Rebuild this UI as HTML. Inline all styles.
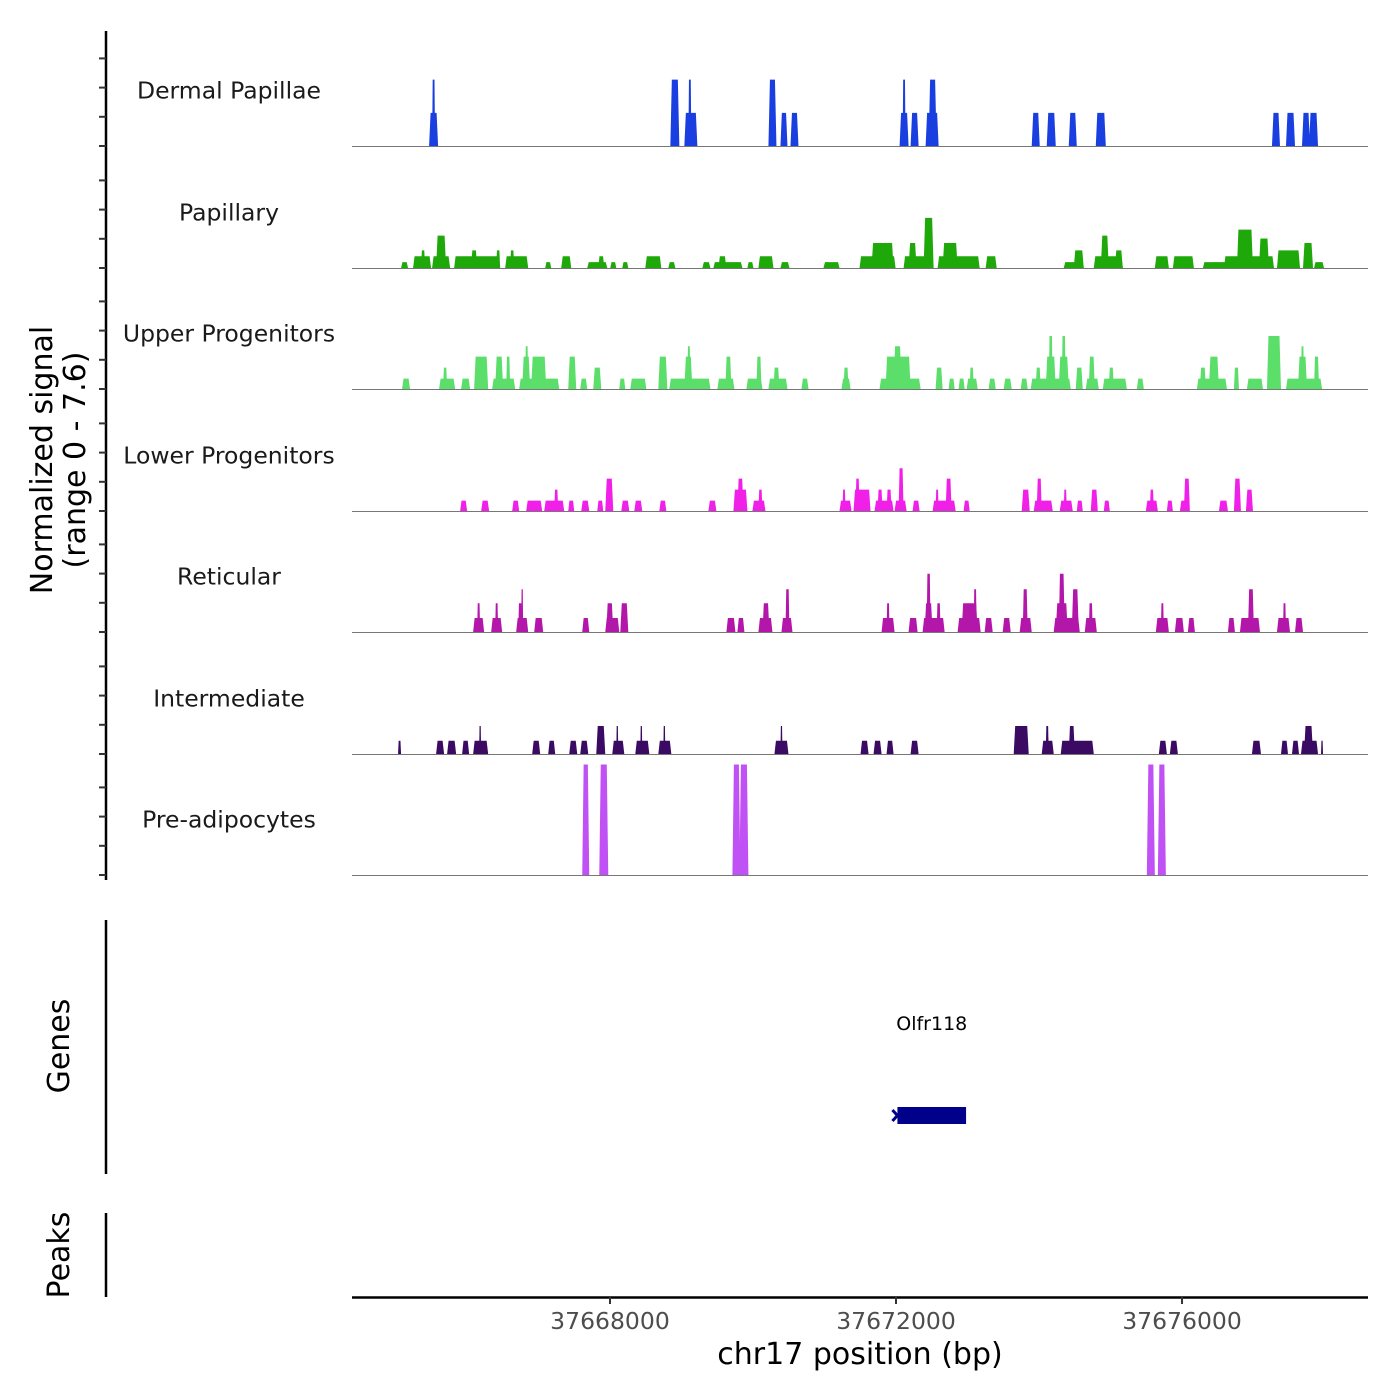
<!DOCTYPE html>
<html><head><meta charset="utf-8">
<style>
html,body{margin:0;padding:0;background:#fff;}
svg{display:block;font-family:"DejaVu Sans","Liberation Sans",sans-serif;}
</style></head>
<body>
<svg id="chart" width="1400" height="1400" viewBox="0 0 1400 1400" xmlns="http://www.w3.org/2000/svg">
<rect width="1400" height="1400" fill="#fff"/>
<g id="tracks"></g>
<g id="axes"></g>
</svg>
<script>
// ---- data ----
const chrom = "chr17";
const regionStart = 37664392;
const regionEnd = 37678601;
const signalMax = 7.6;
const xTicks = [37668000, 37672000, 37676000];
const xTickLabels = ["37668000", "37672000", "37676000"];
const trackNames = ["Dermal Papillae","Papillary","Upper Progenitors","Lower Progenitors","Reticular","Intermediate","Pre-adipocytes"];
const trackColors = ["#1a3fe0","#1fa80a","#5bde6a","#f020e8","#b317a9","#3b0a62","#c052f5"];
// peaks: [startOffsetBp, endOffsetBp, signal] relative to regionStart
const dermalPapillae = [[1078,1204,2.25],[1120,1162,4.5],[4452,4578,4.5],[4648,4830,2.25],[4704,4746,4.5],[5824,5936,4.5],[5992,6090,2.25],[6132,6244,2.25],[7658,7784,2.25],[7700,7742,4.5],[7812,7924,2.25],[8022,8204,2.25],[8064,8176,4.5],[9506,9618,2.25],[9716,9842,2.25],[10024,10136,2.25],[10402,10542,2.25],[12866,12978,2.25],[13062,13188,2.25],[13286,13398,2.25],[13384,13510,2.25]];
const papillary = [[686,784,0.4],[854,1106,0.8],[966,1022,1.2],[1120,1372,0.8],[1176,1316,2.2],[1428,2072,0.8],[1666,1750,1.2],[2016,2072,1.2],[2142,2464,0.8],[2212,2268,1.2],[2702,2786,0.4],[2926,3066,0.8],[3290,3570,0.4],[3444,3528,0.8],[3612,3696,0.4],[3780,3864,0.4],[4102,4326,0.8],[4424,4522,0.4],[4900,5012,0.4],[5054,5460,0.4],[5124,5236,0.8],[5530,5614,0.4],[5684,5894,0.8],[5992,6118,0.4],[6594,6818,0.4],[7098,7602,0.8],[7266,7574,1.7],[7714,8134,0.8],[7784,7896,1.7],[7994,8134,3.4],[8190,8778,0.8],[8260,8470,1.7],[8862,9016,0.8],[9954,10234,0.4],[10094,10234,1.2],[10374,10780,0.8],[10472,10584,2.2],[10668,10780,1.2],[11228,11424,0.8],[11480,11774,0.8],[11900,12894,0.4],[12194,12894,0.8],[12376,12600,2.6],[12684,12824,2.0],[12936,13258,1.2],[13300,13440,1.7],[13454,13594,0.4]];
const upperProgenitors = [[700,812,0.7],[1218,1442,0.7],[1274,1330,1.45],[1526,1652,0.7],[1708,1904,2.2],[1960,2282,0.7],[2002,2114,2.2],[2156,2212,2.2],[2338,2898,0.7],[2380,2492,2.2],[2422,2464,2.9],[2506,2716,2.2],[3024,3136,2.2],[3192,3290,0.7],[3374,3486,1.45],[3738,3822,0.7],[3892,4116,0.7],[4284,4410,2.2],[4438,5012,0.7],[4648,4760,2.2],[4690,4732,2.9],[5110,5348,0.7],[5222,5306,2.2],[5516,5740,0.7],[5656,5726,2.2],[5824,6090,0.7],[5894,5978,1.45],[6286,6384,0.7],[6846,6972,0.7],[6874,6944,1.45],[7378,7952,0.7],[7462,7812,2.2],[7574,7686,2.9],[8162,8260,1.45],[8344,8428,0.7],[8484,8568,0.7],[8596,8750,0.7],[8638,8694,1.45],[8904,9002,0.7],[9114,9226,0.7],[9352,9450,0.7],[9492,10052,0.7],[9562,9632,1.45],[9702,9842,2.2],[9744,9800,3.6],[9884,10024,2.2],[9926,9982,3.6],[10122,10220,1.45],[10262,10444,0.7],[10304,10388,2.2],[10500,10836,0.7],[10584,10654,1.45],[10976,11074,0.7],[11816,12236,0.7],[11858,11942,1.45],[11984,12124,2.2],[12334,12404,1.45],[12516,12740,0.7],[12796,12992,3.6],[13062,13566,0.7],[13230,13356,2.2],[13272,13314,2.9],[13454,13524,2.2]];
const lowerProgenitors = [[1512,1610,0.7],[1806,1918,0.7],[2240,2338,0.7],[2436,2660,0.7],[2688,2968,0.7],[2828,2884,1.45],[3024,3108,0.7],[3206,3318,0.7],[3430,3514,0.7],[3542,3654,2.2],[3766,3878,0.7],[3948,4060,0.7],[4298,4396,0.7],[4984,5096,0.7],[5334,5530,1.45],[5390,5474,2.2],[5600,5782,0.7],[5684,5740,1.45],[6818,6986,0.7],[6860,6902,1.45],[7014,7252,1.45],[7042,7098,2.2],[7308,7574,0.7],[7350,7420,1.45],[7476,7546,1.45],[7588,7756,0.7],[7644,7714,2.9],[7840,7938,0.7],[8120,8442,0.7],[8162,8204,1.45],[8302,8386,2.2],[8554,8638,0.7],[9366,9478,1.45],[9534,9800,0.7],[9576,9646,2.2],[9898,10080,0.7],[9954,9996,1.45],[10136,10220,0.7],[10332,10430,1.45],[10514,10598,0.7],[11102,11270,0.7],[11158,11214,1.45],[11396,11480,0.7],[11578,11704,0.7],[11634,11718,2.2],[12124,12250,0.7],[12334,12432,2.2],[12502,12600,1.45]];
const reticular = [[1694,1848,0.95],[1750,1792,1.95],[1946,2100,0.95],[2002,2044,1.95],[2296,2464,0.95],[2324,2380,1.95],[2366,2394,2.9],[2548,2674,0.95],[3220,3318,0.95],[3542,3738,0.95],[3556,3654,1.95],[3752,3864,1.95],[5236,5362,0.95],[5390,5488,0.95],[5684,5880,0.95],[5740,5838,1.95],[6006,6160,0.95],[6062,6118,2.9],[7406,7588,0.95],[7476,7518,1.95],[7784,7910,0.95],[7980,8288,0.95],[8008,8120,1.95],[8036,8092,3.95],[8176,8232,1.95],[8470,8792,0.95],[8526,8750,1.95],[8694,8736,2.9],[8848,8960,0.95],[9100,9212,0.95],[9338,9506,0.95],[9380,9450,2.9],[9814,10178,0.95],[9842,10010,1.95],[9884,9968,3.95],[10066,10164,2.9],[10248,10416,0.95],[10304,10360,1.95],[11242,11424,0.95],[11312,11354,1.95],[11508,11634,0.95],[11690,11788,0.95],[12250,12348,0.95],[12418,12698,0.95],[12530,12614,2.9],[12936,13118,0.95],[13020,13062,1.95],[13188,13300,0.95]];
const intermediate = [[644,686,0.9],[1176,1288,0.9],[1330,1456,0.9],[1540,1638,0.9],[1694,1904,0.9],[1778,1806,1.9],[2520,2632,0.9],[2744,2842,0.9],[3038,3150,0.9],[3192,3304,0.9],[3416,3542,1.9],[3640,3808,0.9],[3696,3724,1.9],[3962,4158,0.9],[4032,4060,1.9],[4284,4466,0.9],[4354,4382,1.9],[5908,6104,0.9],[5992,6020,1.9],[7112,7224,0.9],[7294,7406,0.9],[7476,7574,0.9],[7812,7924,0.9],[9254,9464,1.9],[9646,9814,0.9],[9702,9744,1.9],[9912,10374,0.9],[10024,10108,1.9],[11284,11396,0.9],[11438,11550,0.9],[12586,12712,0.9],[12992,13090,0.9],[13146,13244,0.9],[13272,13510,0.9],[13314,13440,1.9],[13552,13580,0.9]];
const preAdipocytes = [[3220,3318,7.5],[3458,3584,7.5],[5320,5432,7.5],[5418,5544,7.5],[11116,11228,7.5],[11270,11382,7.5]];
const geneName = "Olfr118";
const geneStart = 37672020;
const geneEnd = 37672980;

// ---- layout ----
const NS = "http://www.w3.org/2000/svg";
const plotLeft = 352, plotRight = 1368;
const baselines = [146,268,389,511,632,754,875];
const trackPx = 112;
function xScale(bp){ return plotLeft + (bp - regionStart) / (regionEnd - regionStart) * (plotRight - plotLeft); }
function yScale(v, base){ return base - v / signalMax * trackPx; }
function mk(tag, attrs, parent){ const e = document.createElementNS(NS, tag); for (const k in attrs) e.setAttribute(k, attrs[k]); parent.appendChild(e); return e; }

const allTracks = [dermalPapillae,papillary,upperProgenitors,lowerProgenitors,reticular,intermediate,preAdipocytes];
const tg = document.getElementById('tracks');
allTracks.forEach(function(peaks, i){
  const base = baselines[i];
  const g = mk('g', {}, tg);
  
  
  const lab = mk('text', {x:229, y:base-54, 'text-anchor':'middle', 'dominant-baseline':'middle', 'font-size':23.5, fill:'#1a1a1a'}, g);
  lab.textContent = trackNames[i];
  
  
  peaks.forEach(function(p){
    const x0 = xScale(regionStart + p[0]), x1 = xScale(regionStart + p[1]);
    const y = yScale(p[2], base);
    const inset = Math.min(1.5, (x1 - x0) / 5);
    const poly = mk('polygon', {points: x0+','+base+' '+(x0+inset)+','+y+' '+(x1-inset)+','+y+' '+x1+','+base, fill: trackColors[i]}, g);
    
    
  });
  const bl = mk('line', {x1:plotLeft, x2:plotRight, y1:base+0.5, y2:base+0.5, stroke:'#777', 'stroke-width':1}, g);
  
  
});

// ---- axes ----
const ax = document.getElementById('axes');
const yAxis = mk('line', {x1:106, x2:106, y1:31, y2:880, stroke:'#000', 'stroke-width':2.5}, ax);


baselines.forEach(function(base){
  [0,1,2,3].forEach(function(k){
    const ty = base - k * 29.2;
    const t = mk('line', {x1:99, x2:106, y1:ty, y2:ty, stroke:'#333', 'stroke-width':2}, ax);
    
    
  });
});
const yt = mk('text', {transform:'translate(52,460) rotate(-90)', 'text-anchor':'middle', 'font-size':30, fill:'#000'}, ax);
yt.textContent = 'Normalized signal';


const yt2 = mk('text', {transform:'translate(85,460) rotate(-90)', 'text-anchor':'middle', 'font-size':30, fill:'#000'}, ax);
yt2.textContent = '(range 0 - 7.6)';



// genes panel
const gl = mk('line', {x1:106, x2:106, y1:920, y2:1174, stroke:'#000', 'stroke-width':2.5}, ax);


const gt = mk('text', {transform:'translate(69,1046) rotate(-90)', 'text-anchor':'middle', 'font-size':30, fill:'#000'}, ax);
gt.textContent = 'Genes';


const gx0 = xScale(geneStart), gx1 = xScale(geneEnd);
const gene = mk('rect', {x:gx0, y:1107, width:gx1-gx0, height:17, fill:'#00008b'}, ax);


const arrow = mk('path', {d:'M'+(gx0-5)+',1110 L'+(gx0)+',1115.5 L'+(gx0-5)+',1121', stroke:'#00008b', 'stroke-width':3, fill:'none'}, ax);


const gn = mk('text', {x:(gx0+gx1)/2, y:1030, 'text-anchor':'middle', 'font-size':19, fill:'#000'}, ax);
gn.textContent = geneName;



// peaks panel
const pl = mk('line', {x1:106, x2:106, y1:1213, y2:1297, stroke:'#000', 'stroke-width':2.5}, ax);


const pt = mk('text', {transform:'translate(69,1255) rotate(-90)', 'text-anchor':'middle', 'font-size':30, fill:'#000'}, ax);
pt.textContent = 'Peaks';



// x axis
const xl = mk('line', {x1:plotLeft, x2:plotRight, y1:1297.5, y2:1297.5, stroke:'#000', 'stroke-width':2.5}, ax);


xTicks.forEach(function(t, i){
  const x = xScale(t);
  const tk = mk('line', {x1:x, x2:x, y1:1297, y2:1304, stroke:'#333', 'stroke-width':2}, ax);
  
  
  const lb = mk('text', {x:x, y:1329, 'text-anchor':'middle', 'font-size':23.5, fill:'#4d4d4d'}, ax);
  lb.textContent = xTickLabels[i];
  
  
});
const xt = mk('text', {x:860, y:1364, 'text-anchor':'middle', 'font-size':30, fill:'#000'}, ax);
xt.textContent = chrom + ' position (bp)';


</script>
</body></html>
